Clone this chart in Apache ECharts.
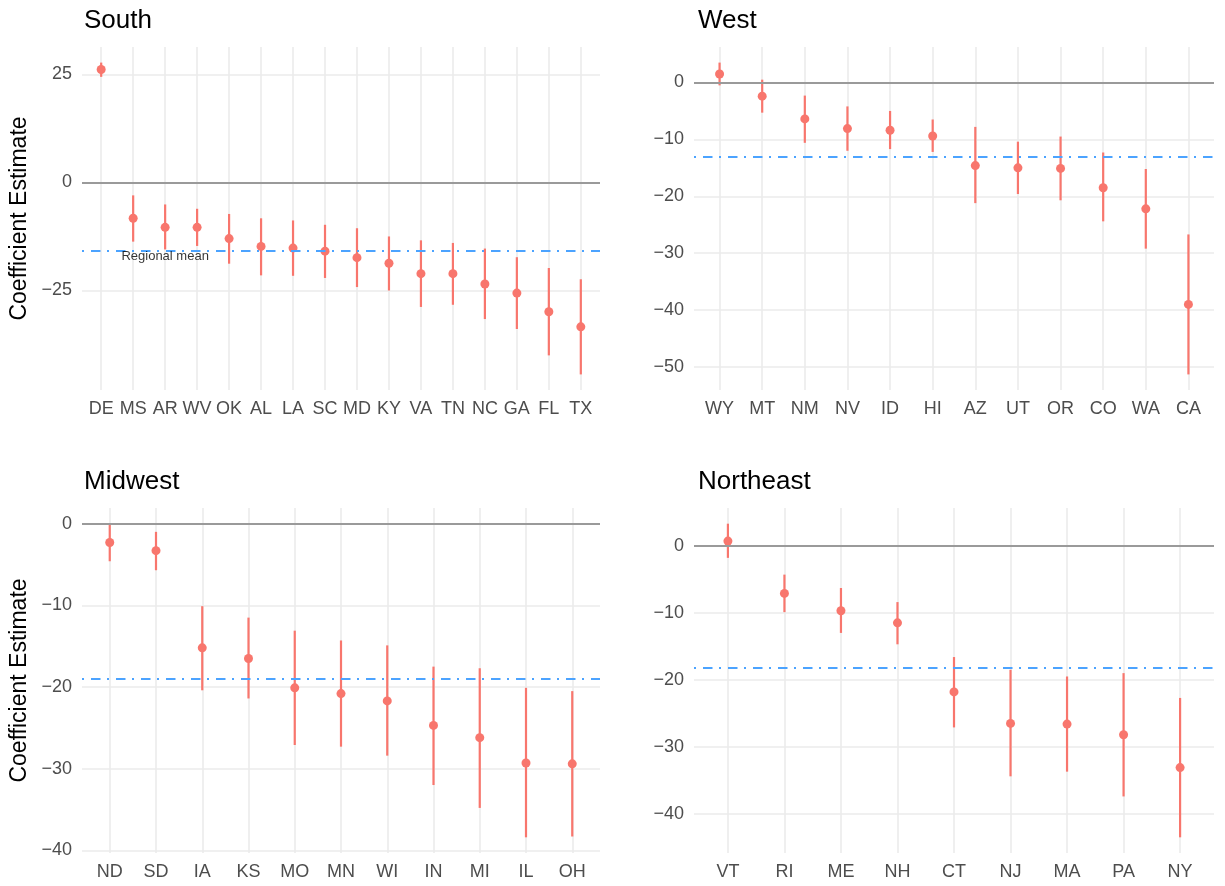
<!DOCTYPE html>
<html>
<head>
<meta charset="utf-8">
<script src="https://cdn.jsdelivr.net/npm/echarts@6/dist/echarts.min.js"></script>
<style>
html,body{margin:0;padding:0;background:#fff;}
#chart{width:1225px;height:886px;}
</style>
</head>
<body>
<div id="chart"></div>
<script>
// ---------------- DATA ----------------
const southStates = ['DE','MS','AR','WV','OK','AL','LA','SC','MD','KY','VA','TN','NC','GA','FL','TX'];
const southEst = [26.1,-8.3,-10.4,-10.4,-13.0,-14.8,-15.2,-15.9,-17.4,-18.7,-21.1,-21.1,-23.5,-25.6,-29.9,-33.4];
const southLo  = [24.4,-13.7,-15.5,-14.7,-18.8,-21.5,-21.6,-22.1,-24.2,-25.0,-28.8,-28.3,-31.6,-33.9,-40.0,-44.4];
const southHi  = [27.7,-3.0,-5.1,-6.1,-7.3,-8.3,-8.8,-9.8,-10.6,-12.5,-13.4,-14.0,-15.3,-17.3,-19.8,-22.4];
const southMean = -15.7;
const southTicks = [-25, 0, 25];

const westStates = ['WY','MT','NM','NV','ID','HI','AZ','UT','OR','CO','WA','CA'];
const westEst = [1.5,-2.4,-6.4,-8.1,-8.4,-9.4,-14.6,-15.0,-15.1,-18.5,-22.2,-39.0];
const westLo  = [-0.5,-5.3,-10.6,-12.0,-11.7,-12.2,-21.2,-19.6,-20.7,-24.4,-29.2,-51.3];
const westHi  = [3.5,0.5,-2.3,-4.2,-5.0,-6.5,-7.8,-10.4,-9.5,-12.3,-15.2,-26.7];
const westMean = -13.1;
const westTicks = [-50, -40, -30, -20, -10, 0];

const midwestStates = ['ND','SD','IA','KS','MO','MN','WI','IN','MI','IL','OH'];
const midwestEst = [-2.3,-3.3,-15.2,-16.5,-20.1,-20.8,-21.7,-24.7,-26.2,-29.3,-29.4];
const midwestLo  = [-4.6,-5.7,-20.4,-21.4,-27.1,-27.3,-28.4,-32.0,-34.8,-38.4,-38.3];
const midwestHi  = [-0.1,-1.0,-10.1,-11.5,-13.1,-14.3,-14.9,-17.5,-17.7,-20.1,-20.5];
const midwestMean = -19.0;
const midwestTicks = [-40, -30, -20, -10, 0];

const northeastStates = ['VT','RI','ME','NH','CT','NJ','MA','PA','NY'];
const northeastEst = [0.7,-7.1,-9.7,-11.5,-21.8,-26.5,-26.6,-28.2,-33.1];
const northeastLo  = [-1.8,-9.9,-13.0,-14.7,-27.1,-34.4,-33.7,-37.4,-43.5];
const northeastHi  = [3.3,-4.3,-6.3,-8.4,-16.6,-18.5,-19.5,-19.0,-22.7];
const northeastMean = -18.2;
const northeastTicks = [-40, -30, -20, -10, 0];

const regions = ['South','West','Midwest','Northeast'];
const annotationText = 'Regional mean';

// ---------------- LAYOUT / STYLE ----------------
const FONT = "'Liberation Sans', Arial, Helvetica, sans-serif";
const PT = '#F8766D';
const GRID_C = '#EBEBEB';
const TICK_C = '#4D4D4D';

const panels = [
  {name: regions[0], states: southStates, est: southEst, lo: southLo, hi: southHi, mean: southMean, ticks: southTicks,
   grid: {left: 82, top: 47, width: 518, height: 343}, ylab: true, titlePos: {left: 79, top: 3}, annot: true},
  {name: regions[1], states: westStates, est: westEst, lo: westLo, hi: westHi, mean: westMean, ticks: westTicks,
   grid: {left: 694, top: 47, width: 520, height: 343}, ylab: false, titlePos: {left: 693, top: 3}},
  {name: regions[2], states: midwestStates, est: midwestEst, lo: midwestLo, hi: midwestHi, mean: midwestMean, ticks: midwestTicks,
   grid: {left: 82, top: 508, width: 518, height: 345}, ylab: true, titlePos: {left: 79, top: 464}},
  {name: regions[3], states: northeastStates, est: northeastEst, lo: northeastLo, hi: northeastHi, mean: northeastMean, ticks: northeastTicks,
   grid: {left: 694, top: 508, width: 520, height: 345}, ylab: false, titlePos: {left: 693, top: 464}}
];

function yRange(p) {
  let mn = Math.min(0, p.mean, ...p.lo, ...p.est);
  let mx = Math.max(0, p.mean, ...p.hi, ...p.est);
  const r = mx - mn;
  return [mn - 0.05 * r, mx + 0.05 * r];
}

const option = {
  animation: false,
  backgroundColor: '#ffffff',
  textStyle: {fontFamily: FONT},
  title: [], grid: [], xAxis: [], yAxis: [], series: []
};

panels.forEach((p, gi) => {
  const n = p.states.length;
  const yr = yRange(p);
  option.title.push({
    text: p.name, left: p.titlePos.left, top: p.titlePos.top,
    textStyle: {fontFamily: FONT, fontSize: 26, fontWeight: 'normal', color: '#000'}
  });
  option.grid.push(Object.assign({containLabel: false}, p.grid));
  const cats = p.states;
  const xTickVals = cats.map((_, i) => i + 1);
  option.xAxis.push({
    type: 'value', gridIndex: gi, min: 0.4, max: n + 0.6,
    axisLine: {show: false},
    axisTick: {show: false, customValues: xTickVals},
    axisLabel: {customValues: xTickVals, formatter: v => cats[Math.round(v) - 1] || '',
      color: TICK_C, fontSize: 18, fontFamily: FONT, margin: 10},
    splitLine: {show: true, lineStyle: {color: GRID_C, width: 1.6}}
  });
  option.yAxis.push({
    type: 'value', gridIndex: gi, min: yr[0], max: yr[1],
    axisLine: {show: false},
    axisTick: {show: false, customValues: p.ticks},
    axisLabel: {customValues: p.ticks, formatter: v => String(v).replace('-', '\u2212'),
      color: TICK_C, fontSize: 18, fontFamily: FONT, margin: 10},
    splitLine: {show: true, lineStyle: {color: GRID_C, width: 1.6}},
    name: p.ylab ? 'Coefficient Estimate' : '',
    nameLocation: 'middle', nameGap: 51, nameRotate: 90,
    nameTextStyle: {fontSize: 23, color: '#000', fontFamily: FONT}
  });
  // reference lines
  option.series.push({
    type: 'line', xAxisIndex: gi, yAxisIndex: gi, data: [], z: 1, silent: true,
    markLine: {
      symbol: 'none', silent: true, animation: false, label: {show: false},
      data: [
        {yAxis: 0, lineStyle: {color: '#9A9A9A', width: 2, type: 'solid'}},
        {yAxis: p.mean, lineStyle: {color: '#4BA3FF', width: 2.2, type: [2, 7, 9.5, 6.5]}}
      ]
    }
  });
  // error bars
  option.series.push({
    type: 'custom', xAxisIndex: gi, yAxisIndex: gi, z: 3, silent: true,
    data: cats.map((_, i) => [i + 1, p.lo[i], p.hi[i]]),
    encode: {x: 0, y: [1, 2]},
    renderItem: function (params, api) {
      const x = api.value(0);
      const a = api.coord([x, api.value(1)]);
      const b = api.coord([x, api.value(2)]);
      return {type: 'line', shape: {x1: a[0], y1: a[1], x2: b[0], y2: b[1]},
        style: {stroke: PT, lineWidth: 2.2}};
    }
  });
  // points
  option.series.push({
    type: 'scatter', xAxisIndex: gi, yAxisIndex: gi, z: 4, silent: true,
    symbol: 'circle', symbolSize: 9,
    itemStyle: {color: PT, opacity: 1},
    data: cats.map((_, i) => [i + 1, p.est[i]])
  });
  if (p.annot) {
    option.series.push({
      type: 'scatter', xAxisIndex: gi, yAxisIndex: gi, z: 5, silent: true,
      symbolSize: 0,
      data: [[3, p.mean - 1.5]],
      label: {show: true, position: 'inside', formatter: annotationText,
        color: '#000', fontSize: 13, fontFamily: FONT}
    });
  }
});

const chart = echarts.init(document.getElementById('chart'), null, {renderer: 'canvas'});
chart.setOption(option);
</script>
</body>
</html>
